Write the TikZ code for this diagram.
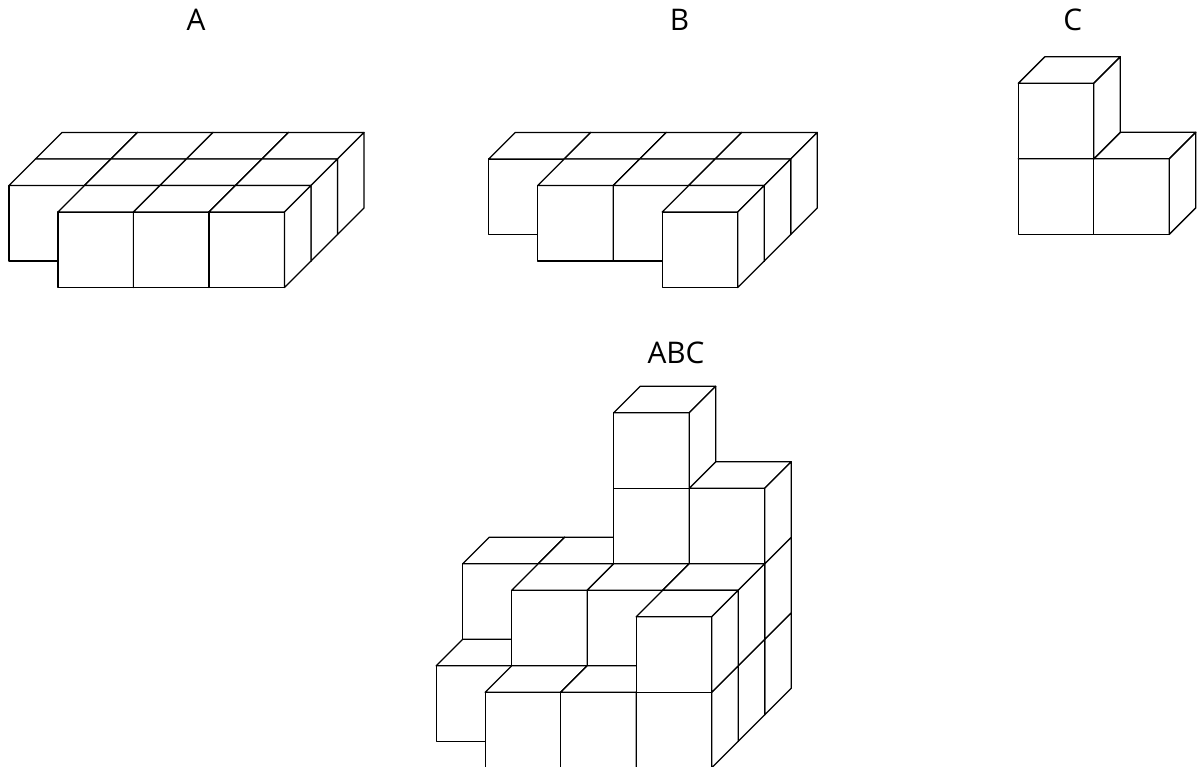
\documentclass[tikz,border=0pt]{standalone}
\usepackage{fontspec}
\setmainfont{Open Sans}

\tikzset{
	face/.style={fill=white,draw=black,line width=1.3pt,line join=round},
	lab/.style={font=\fontsize{29.8}{34}\selectfont,inner sep=0pt}
}

% one unit cube: column, level, depth
\newcommand{\cubeat}[3]{%
	\filldraw[face] (#1,#2,#3) -- ++(1,0,0) -- ++(0,1,0) -- ++(-1,0,0) -- cycle;
	\filldraw[face] (#1,#2+1,#3) -- ++(1,0,0) -- ++(0,0,1) -- ++(-1,0,0) -- cycle;
	\filldraw[face] (#1+1,#2,#3) -- ++(0,0,1) -- ++(0,1,0) -- ++(0,0,-1) -- cycle;
}

\begin{document}
\begin{tikzpicture}[x={(75.5pt,0pt)},y={(0pt,75.5pt)},z={(26.5pt,26.5pt)}]
	
	\useasboundingbox (0pt,0pt) rectangle (1198pt,767pt);
	\clip (0pt,0pt) rectangle (1198pt,767pt);
	
	\node[lab] (labA) at (196pt,747pt) {A};
	\node[lab] (labB) at (679.5pt,747pt) {B};
	\node[lab] (labC) at (1072.7pt,747pt) {C};
	\node[lab] (labABC) at (676pt,414.5pt) {ABC};
	
	% A
	\begin{scope}[shift={(-17.5pt,479.5pt)}]
		\foreach \c/\l/\k in {0/0/2,1/0/2,2/0/2,3/0/2,
			0/0/1,1/0/1,2/0/1,3/0/1,
			1/0/0,2/0/0,3/0/0}
		{\cubeat{\c}{\l}{\k}}
	\end{scope}
	
	% B
	\begin{scope}[shift={(435.7pt,479.5pt)}]
		\foreach \c/\l/\k in {0/0/2,1/0/2,2/0/2,3/0/2,
			1/0/1,2/0/1,3/0/1,
			3/0/0}
		{\cubeat{\c}{\l}{\k}}
	\end{scope}
	
	% C
	\begin{scope}[shift={(1018.3pt,532.7pt)}]
		\foreach \c/\l/\k in {0/0/0,1/0/0,0/1/0}
		{\cubeat{\c}{\l}{\k}}
	\end{scope}
	
	% ABC
	\begin{scope}[shift={(409.7pt,-0.8pt)}]
		\foreach \c/\l/\k in {0/0/2,1/0/2,2/0/2,3/0/2,
			0/1/2,1/1/2,2/1/2,3/1/2,
			2/2/2,3/2/2,2/3/2,
			0/0/1,1/0/1,2/0/1,3/0/1,
			1/1/1,2/1/1,3/1/1,
			1/0/0,2/0/0,3/0/0,3/1/0}
		{\cubeat{\c}{\l}{\k}}
	\end{scope}

\end{tikzpicture}
\end{document}
